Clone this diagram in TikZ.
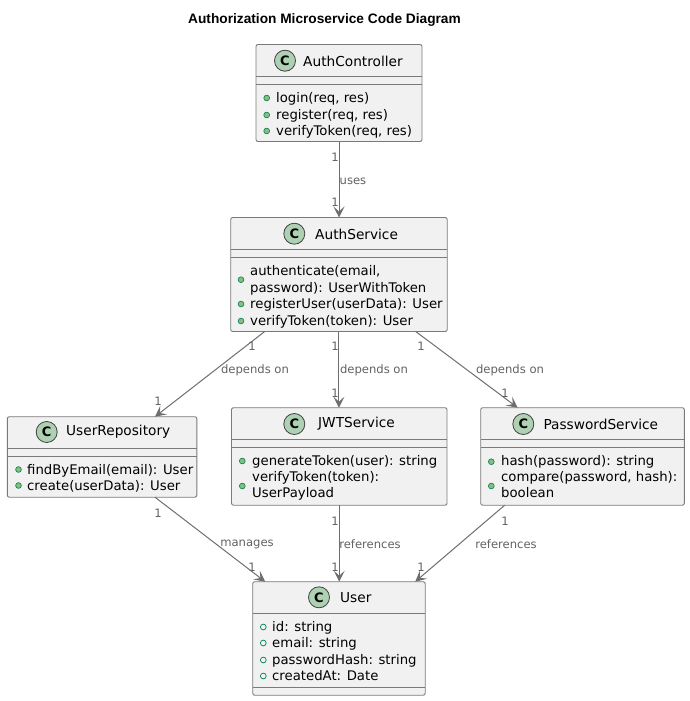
\documentclass[tikz,border=0pt]{standalone}
\usepackage{fontspec}
\setmainfont{DejaVu Sans}
\newfontfamily\titlefont{Liberation Sans}
\usetikzlibrary{arrows.meta,calc}
\definecolor{boxfill}{HTML}{F1F1F1}
\definecolor{boxline}{HTML}{7A7A7A}
\definecolor{relline}{HTML}{6E6E6E}
\definecolor{spotfill}{HTML}{ADD1B2}
\definecolor{dotfill}{HTML}{84BE84}
\definecolor{dotline}{HTML}{038048}
\tikzset{
  classbox/.style={draw=boxline,fill=boxfill,line width=0.9pt,rounded corners=2pt,inner sep=0pt,outer sep=0pt,anchor=north west},
  classline/.style={draw=boxline,line width=0.9pt},
  classspot/.style={circle,draw=black!75,fill=spotfill,line width=0.8pt,minimum size=21pt,inner sep=0pt,font=\fontsize{13}{15}\selectfont\bfseries},
  classname/.style={anchor=west,inner sep=0pt,text=black,font=\fontsize{13.7}{15}\selectfont},
  member/.style={anchor=base west,inner sep=0pt,text=black,font=\fontsize{13.25}{15}\selectfont},
  methoddot/.style={circle,draw=dotline,fill=dotfill,line width=0.6pt,minimum size=5.8pt,inner sep=0pt},
  fielddot/.style={circle,draw=dotline,fill=boxfill,line width=0.7pt,minimum size=5.8pt,inner sep=0pt},
  relarrow/.style={draw=relline,line width=1pt,-{Stealth[length=11pt,width=11pt,inset=5pt]}},
  rellabel/.style={inner sep=0pt,text=black!62,font=\fontsize{11.6}{13}\selectfont}
}
\begin{document}
\begin{tikzpicture}[x=1pt,y=-1pt]
    \useasboundingbox (0,0) rectangle (690,701);

    % Title
    \node[inner sep=0pt,font=\titlefont\fontsize{13.7}{15}\selectfont\bfseries] (title) at (324.5,20) {Authorization Microservice Code Diagram};

    % AuthController
    \node[classbox,minimum width=166pt,minimum height=97pt] (ctl) at (256,44.5) {};
    \draw[classline] (ctl.west |- 0,76.5) -- (ctl.east |- 0,76.5);
    \draw[classline] (ctl.west |- 0,84.5) -- (ctl.east |- 0,84.5);
    \node[classspot] (ctlspot) at (285,60.7) {C};
    \node[classname] (ctlname) at (303,61) {AuthController};
    \foreach \n/\y/\t in {a/102/{login(req, res)},b/119/{register(req, res)},c/135/{verifyToken(req, res)}} {
        \node[methoddot] (ctldot\n) at (266.7,\y-4) {};
        \node[member] (ctlitem\n) at (276,\y) {\t};
    }

    % AuthService
    \node[classbox,minimum width=216.5pt,minimum height=114pt] (svc) at (230.7,217.5) {};
    \draw[classline] (svc.west |- 0,249.7) -- (svc.east |- 0,249.7);
    \draw[classline] (svc.west |- 0,257.7) -- (svc.east |- 0,257.7);
    \node[classspot] (svcspot) at (294.3,233.7) {C};
    \node[classname] (svcname) at (315,234) {AuthService};
    \node[methoddot] (svcdota) at (241,279.7) {};
    \node[methoddot] (svcdotb) at (241,304) {};
    \node[methoddot] (svcdotc) at (241,321) {};
    \foreach \n/\y/\t in {a/275.5/{authenticate(email,},b/292/{password): UserWithToken},c/308/{registerUser(userData): User},d/325/{verifyToken(token): User}} {
        \node[member] (svcitem\n) at (250,\y) {\t};
    }

    % UserRepository
    \node[classbox,minimum width=189.5pt,minimum height=80.5pt] (repo) at (7.3,416.7) {};
    \draw[classline] (repo.west |- 0,448.3) -- (repo.east |- 0,448.3);
    \draw[classline] (repo.west |- 0,456.3) -- (repo.east |- 0,456.3);
    \node[classspot] (repospot) at (46.7,432) {C};
    \node[classname] (reponame) at (66,432) {UserRepository};
    \foreach \n/\y/\t in {a/474/{findByEmail(email): User},b/490/{create(userData): User}} {
        \node[methoddot] (repodot\n) at (18.5,\y-4.5) {};
        \node[member] (repoitem\n) at (27,\y) {\t};
    }

    % JWTService
    \node[classbox,minimum width=215.5pt,minimum height=97.5pt] (jwt) at (231.5,407.7) {};
    \draw[classline] (jwt.west |- 0,439) -- (jwt.east |- 0,439);
    \draw[classline] (jwt.west |- 0,447) -- (jwt.east |- 0,447);
    \node[classspot] (jwtspot) at (294.3,424) {C};
    \node[classname] (jwtname) at (318,424) {JWTService};
    \node[methoddot] (jwtdota) at (242.3,461) {};
    \node[methoddot] (jwtdotb) at (242.3,486) {};
    \foreach \n/\y/\t in {a/465.7/{generateToken(user): string},b/481.7/{verifyToken(token):},c/497.7/{UserPayload}} {
        \node[member] (jwtitem\n) at (252,\y) {\t};
    }

    % PasswordService
    \node[classbox,minimum width=203.6pt,minimum height=97.5pt] (pwd) at (480.7,407.7) {};
    \draw[classline] (pwd.west |- 0,439) -- (pwd.east |- 0,439);
    \draw[classline] (pwd.west |- 0,447) -- (pwd.east |- 0,447);
    \node[classspot] (pwdspot) at (523.3,424) {C};
    \node[classname] (pwdname) at (543.3,424) {PasswordService};
    \node[methoddot] (pwddota) at (491.3,461.7) {};
    \node[methoddot] (pwddotb) at (491.3,486) {};
    \foreach \n/\y/\t in {a/465.7/{hash(password): string},b/481.7/{compare(password, hash):},c/497.7/{boolean}} {
        \node[member] (pwditem\n) at (501,\y) {\t};
    }

    % User
    \node[classbox,minimum width=172.5pt,minimum height=113.5pt] (usr) at (252.7,581.7) {};
    \draw[classline] (usr.west |- 0,613.3) -- (usr.east |- 0,613.3);
    \draw[classline] (usr.west |- 0,687.3) -- (usr.east |- 0,687.3);
    \node[classspot] (usrspot) at (319,597.3) {C};
    \node[classname] (usrname) at (340,597.5) {User};
    \foreach \n/\y/\t in {a/631/{id: string},b/647/{email: string},c/664/{passwordHash: string},d/680/{createdAt: Date}} {
        \node[fielddot] (usrdot\n) at (263.3,\y-4) {};
        \node[member] (usritem\n) at (272,\y) {\t};
    }

    % Relations
    \draw[relarrow] (ctl.south) -- (ctl.south |- svc.north);
    \draw[relarrow] ($(svc.south west)+(34,0)$) -- ($(repo.north west)+(147.7,0)$);
    \draw[relarrow] (svc.south) -- (svc.south |- jwt.north);
    \draw[relarrow] ($(svc.south west)+(185,0)$) -- ($(pwd.north west)+(37,0)$);
    \draw[relarrow] ($(repo.south west)+(147.7,0)$) -- ($(usr.north west)+(12.5,0)$);
    \draw[relarrow] (jwt.south) -- (jwt.south |- usr.north);
    \draw[relarrow] ($(pwd.south west)+(24,0)$) -- ($(usr.north east)+(-10,0)$);

    % Labels
    \node[rellabel] (usesl) at (353,181) {uses};
    \node[rellabel] (depa) at (255,370) {depends on};
    \node[rellabel] (depb) at (374,370) {depends on};
    \node[rellabel] (depc) at (510,370) {depends on};
    \node[rellabel] (mana) at (247,544) {manages};
    \node[rellabel] (refa) at (370,544) {references};
    \node[rellabel] (refb) at (506,544) {references};
    \foreach \n/\x/\y in {a/335/157,b/335/202,c/252/346,d/158/401,e/335/346,f/335/393,g/421/346,h/505/393,i/158/513,j/252/567,k/335/521,l/335/567,m/505/521,n/421/567} {
        \node[rellabel] (mult\n) at (\x,\y) {1};
    }
\end{tikzpicture}
\end{document}
